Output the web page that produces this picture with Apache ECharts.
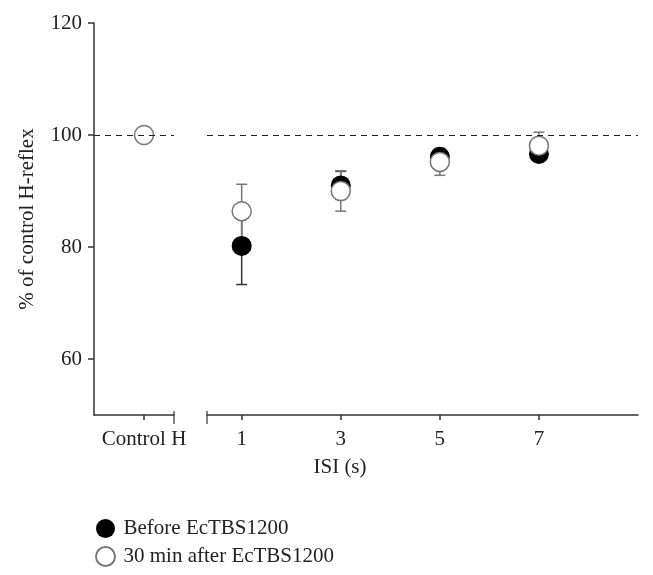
<!DOCTYPE html>
<html>
<head>
<meta charset="utf-8">
<style>html,body{margin:0;padding:0;background:#fff}#main{width:653px;height:575px}</style>
<script src="https://cdn.jsdelivr.net/npm/echarts@6/dist/echarts.min.js"></script>
</head>
<body>
<div id="main"></div>
<script>
// values
var isiValues = [1, 3, 5, 7];
var isiLabels = ['1', '3', '5', '7'];
var controlX = [-1];
var controlLabel = 'Control H';
var controlValue = [100];
var beforeMean = [80.2, 91.0, 96.1, 96.6];
var beforeErr = [6.9, 2.5, 1.4, 0.8];
var afterMean = [86.4, 90.0, 95.2, 98.1];
var afterErr = [4.8, 3.6, 2.4, 2.4];
var yTicks = [60, 80, 100, 120];
var seriesNames = ['Before EcTBS1200', '30 min after EcTBS1200'];
// x values on both sides of the axis break
var breakLeft = -0.4, breakRight = 0.3;

(function(){
    var font = 'Liberation Serif';
    var fs = 21;
    var axisColor = '#333';
    var openColor = '#777';
    var myChart = echarts.init(document.getElementById('main'));

    function errorBars(means, errs, color) {
        return {
            type: 'custom',
            xAxisIndex: 1, yAxisIndex: 1,
            silent: true,
            z: 2,
            data: isiValues.map(function(x, i){ return [x, means[i] - errs[i], means[i] + errs[i]]; }),
            encode: {x: 0, y: [1, 2]},
            renderItem: function(params, api){
                var lo = api.coord([api.value(0), api.value(1)]);
                var hi = api.coord([api.value(0), api.value(2)]);
                var w = 5.5;
                var st = {stroke: color, lineWidth: 1.5};
                return {type: 'group', children: [
                    {type: 'line', shape: {x1: lo[0], y1: lo[1], x2: hi[0], y2: hi[1]}, style: st},
                    {type: 'line', shape: {x1: lo[0] - w, y1: lo[1], x2: lo[0] + w, y2: lo[1]}, style: st},
                    {type: 'line', shape: {x1: hi[0] - w, y1: hi[1], x2: hi[0] + w, y2: hi[1]}, style: st}
                ]};
            }
        };
    }

    function breakCap(idx, x) {
        return {
            type: 'scatter',
            xAxisIndex: idx, yAxisIndex: idx,
            data: [[x, 50]],
            symbol: 'rect',
            symbolSize: [1.5, 13],
            symbolOffset: [0, 2.5],
            itemStyle: {color: axisColor},
            clip: false,
            silent: true,
            z: 3
        };
    }

    var refLine = {
        silent: true,
        symbol: 'none',
        label: {show: false},
        lineStyle: {color: '#222', type: [6, 5], width: 1.2},
        data: [{yAxis: 100}]
    };

    var openStyle = {color: '#fff', borderColor: openColor, borderWidth: 1.5, opacity: 1};
    var labelStyle = {color: '#222', fontSize: fs, fontFamily: font};

    var option = {
        animation: false,
        textStyle: {fontFamily: font},
        grid: [
            {left: 94, width: 80, top: 23, bottom: 160},
            {left: 207, right: 15, top: 23, bottom: 160}
        ],
        xAxis: [
            {
                gridIndex: 0, type: 'value', min: -2, max: breakLeft,
                axisLine: {onZero: false, lineStyle: {color: axisColor, width: 1.5}},
                axisTick: {customValues: controlX, length: 5, lineStyle: {color: axisColor, width: 1.5}},
                axisLabel: Object.assign({customValues: controlX, formatter: function(){ return controlLabel; }, margin: 14}, labelStyle),
                splitLine: {show: false}
            },
            {
                gridIndex: 1, type: 'value', min: breakRight, max: 9,
                axisLine: {onZero: false, lineStyle: {color: axisColor, width: 1.5}},
                axisTick: {customValues: isiValues, length: 5, lineStyle: {color: axisColor, width: 1.5}},
                axisLabel: Object.assign({customValues: isiValues, formatter: function(v){ return isiLabels[isiValues.indexOf(v)]; }, margin: 14}, labelStyle),
                splitLine: {show: false}
            }
        ],
        yAxis: [
            {
                gridIndex: 0, type: 'value', min: 50, max: 120,
                name: '% of control H-reflex', nameLocation: 'middle', nameGap: 56,
                nameTextStyle: labelStyle,
                axisLine: {show: true, onZero: false, lineStyle: {color: axisColor, width: 1.5}},
                axisTick: {show: true, customValues: yTicks, length: 6, lineStyle: {color: axisColor, width: 1.5}},
                axisLabel: Object.assign({customValues: yTicks, margin: 12}, labelStyle),
                splitLine: {show: false}
            },
            {gridIndex: 1, type: 'value', min: 50, max: 120, show: false, splitLine: {show: false}}
        ],
        legend: {
            orient: 'vertical',
            left: 90, top: 513, height: 80,
            itemWidth: 20, itemHeight: 19, itemGap: 7,
            data: seriesNames,
            textStyle: Object.assign({padding: [0, 0, 0, 3]}, labelStyle)
        },
        graphic: [{
            type: 'text', x: 340, y: 467,
            style: {text: 'ISI (s)', fill: '#222', font: fs + 'px "Liberation Serif"', textAlign: 'center', textVerticalAlign: 'middle'}
        }],
        series: [
            errorBars(beforeMean, beforeErr, '#333'),
            errorBars(afterMean, afterErr, openColor),
            {
                name: seriesNames[0], type: 'scatter', xAxisIndex: 1, yAxisIndex: 1,
                symbolSize: 20, z: 3,
                itemStyle: {color: '#000', opacity: 1},
                data: isiValues.map(function(x, i){ return [x, beforeMean[i]]; }),
                markLine: refLine
            },
            {
                name: seriesNames[1], type: 'scatter', xAxisIndex: 1, yAxisIndex: 1,
                symbolSize: 19, z: 4,
                itemStyle: openStyle,
                data: isiValues.map(function(x, i){ return [x, afterMean[i]]; })
            },
            {
                name: seriesNames[1], type: 'scatter', xAxisIndex: 0, yAxisIndex: 0,
                symbolSize: 19, z: 4,
                itemStyle: openStyle,
                data: controlX.map(function(x, i){ return [x, controlValue[i]]; }),
                markLine: refLine
            },
            breakCap(0, breakLeft),
            breakCap(1, breakRight)
        ]
    };
    myChart.setOption(option);
    window.addEventListener('resize', function(){ myChart.resize(); });
})();
</script>
</body>
</html>
